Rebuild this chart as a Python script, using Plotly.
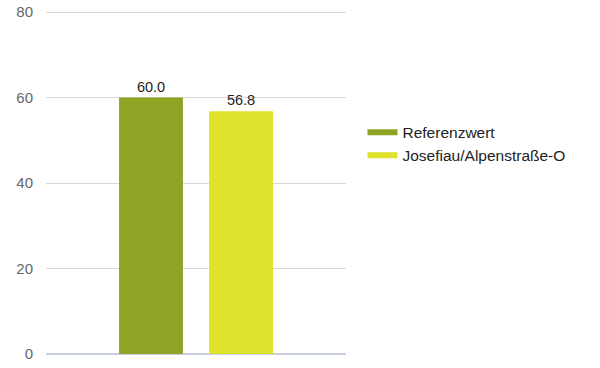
import plotly.graph_objects as go

categories = [""]
series_names = ["Referenzwert", "Josefiau/Alpenstraße-O"]
series_values = [[60.0], [56.8]]
colors = ["#8ea425", "#dee22a"]
y_ticks = [0, 20, 40, 60, 80]

fig = go.Figure()
for name, vals, c in zip(series_names, series_values, colors):
    fig.add_trace(go.Bar(
        x=categories, y=vals, name=name, marker_color=c, marker_line_width=0,
        text=vals, texttemplate="%{y:.1f}", textposition="outside",
        textfont=dict(color="#222222", size=14.5), cliponaxis=False,
        showlegend=False,
    ))
    fig.add_trace(go.Scatter(
        x=[None], y=[None], mode="lines", name=name,
        line=dict(color=c, width=6), showlegend=True,
    ))

fig.update_layout(
    width=600, height=368,
    margin=dict(l=46, r=254, t=11, b=14, autoexpand=False),
    paper_bgcolor="white", plot_bgcolor="white",
    barmode="group", bargap=0.4, bargroupgap=0.29,
    font=dict(family="Liberation Sans, Arial, sans-serif", size=14, color="#333333"),
    showlegend=True,
    legend=dict(x=1.055, y=0.612, xanchor="left", yanchor="middle",
                font=dict(size=15.5, color="#222222"), itemwidth=30,
                tracegroupgap=0, bgcolor="rgba(0,0,0,0)"),
    xaxis=dict(showticklabels=False, showgrid=False, zeroline=False, showline=False,
               automargin=False),
    yaxis=dict(range=[0, 80.25], tickvals=y_ticks, showgrid=True, gridcolor="#d8d8d8",
               gridwidth=1, zeroline=True, zerolinecolor="#c8d0e0", zerolinewidth=2,
               tickfont=dict(color="#666666", size=15), ticks="", ticklen=0,
               ticklabelstandoff=12, showline=False, automargin=False,
               ticklabeloverflow="allow"),
)

fig.write_html("out.html", config={"displayModeBar": False},
               post_script="document.body.style.margin='0';")
